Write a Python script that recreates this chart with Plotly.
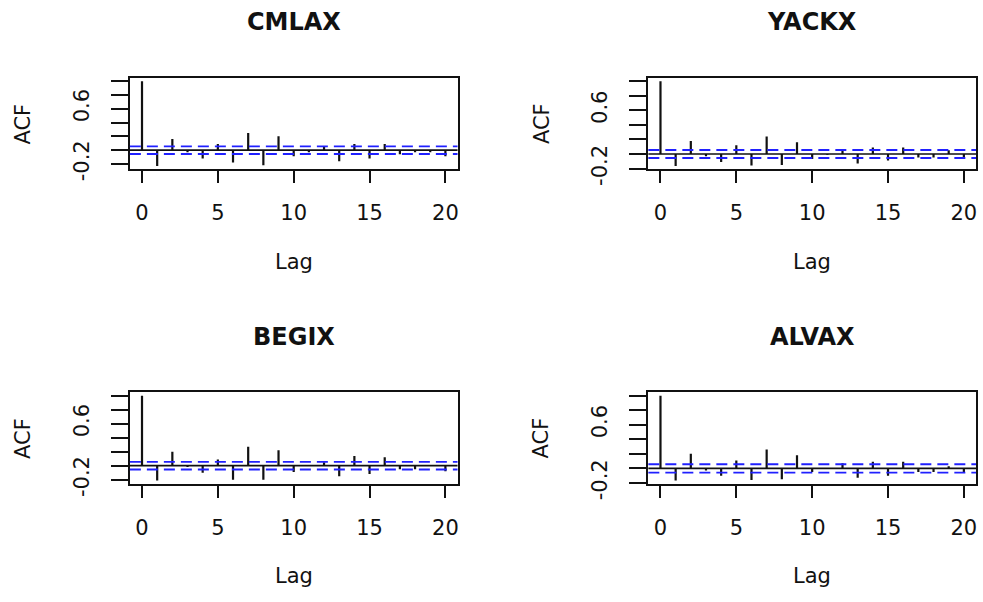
import plotly.graph_objects as go

# Autocorrelation values for lags 0..20 of each fund's return series
lags = list(range(21))
fund_names = ["CMLAX", "YACKX", "BEGIX", "ALVAX"]

acf_cmlax = [1.0, -0.23, 0.16, -0.03, -0.12, 0.09, -0.18, 0.25, -0.22, 0.20, -0.09,
             -0.03, 0.05, -0.16, 0.09, -0.12, 0.09, -0.06, -0.03, -0.03, -0.09]
acf_yackx = [1.0, -0.165, 0.18, -0.03, -0.11, 0.12, -0.16, 0.24, -0.15, 0.16, -0.07,
             -0.01, 0.04, -0.13, 0.09, -0.09, 0.09, -0.05, -0.05, 0.05, -0.05]
acf_begix = [1.0, -0.21, 0.20, -0.02, -0.10, 0.09, -0.20, 0.27, -0.20, 0.22, -0.09,
             0.01, 0.05, -0.15, 0.14, -0.12, 0.12, -0.05, -0.05, 0.0, -0.08]
acf_alvax = [1.0, -0.165, 0.20, -0.03, -0.10, 0.11, -0.16, 0.26, -0.15, 0.18, -0.05,
             0.0, 0.07, -0.13, 0.09, -0.10, 0.09, -0.05, -0.05, 0.03, -0.05]

# 95% white-noise bounds
conf_limits = [0.055, 0.055, 0.055, 0.058]

x_ticks = [0, 5, 10, 15, 20]
y_ticks = [-0.2, 0.0, 0.2, 0.4, 0.6, 0.8, 1.0]
y_tick_text = ["-0.2", "", "", "", "0.6", "", ""]

series = [acf_cmlax, acf_yackx, acf_begix, acf_alvax]

W, H = 983, 602
# plot boxes in pixels: left, right, top, bottom
boxes = [(130, 458, 80, 174), (649, 977, 80, 174),
         (130, 458, 403, 497), (649, 977, 403, 497)]

FONT = "DejaVu Sans, Liberation Sans, Arial, sans-serif"
INK = "#111111"

fig = go.Figure()
annotations = []
shapes = []

for i, (name, acf, clim, box) in enumerate(zip(fund_names, series, conf_limits, boxes)):
    n = i + 1
    xa = "x" if n == 1 else f"x{n}"
    ya = "y" if n == 1 else f"y{n}"
    l, r, t, b = box

    # vertical spikes from zero to each autocorrelation
    xs, ys = [], []
    for k, v in zip(lags, acf):
        xs += [k, k, None]
        ys += [0, v, None]
    fig.add_trace(go.Scatter(x=xs, y=ys, mode="lines", xaxis=xa, yaxis=ya,
                             line=dict(color=INK, width=2.2), hoverinfo="skip",
                             showlegend=False))

    lo = min(min(acf), -clim)
    hi = max(max(acf), clim)
    pad = 0.04 * (hi - lo)
    x_pad = 0.04 * (lags[-1] - lags[0])

    axis_common = dict(showline=True, mirror=True, linecolor=INK, linewidth=1.8,
                       showgrid=False, zeroline=False, ticks="outside",
                       tickcolor=INK,
                       tickfont=dict(family=FONT, size=21, color=INK))
    fig.layout[f"xaxis{n if n > 1 else ''}"] = dict(
        domain=[l / W, r / W], anchor=ya,
        range=[lags[0] - x_pad, lags[-1] + x_pad],
        tickvals=x_ticks, ticklen=12, tickwidth=2.2, ticklabelstandoff=12,
        **axis_common)
    fig.layout[f"yaxis{n if n > 1 else ''}"] = dict(
        domain=[1 - b / H, 1 - t / H], anchor=xa,
        range=[lo - pad, hi + pad],
        tickvals=y_ticks, ticktext=y_tick_text, tickangle=-90,
        ticklen=17, tickwidth=1.7, ticklabelstandoff=14, **axis_common)

    # zero line and confidence bounds across the panel
    shapes.append(dict(type="line", xref=f"{xa} domain", yref=ya, x0=0, x1=1,
                       y0=0, y1=0, line=dict(color=INK, width=1.7)))
    for yv in (clim, -clim):
        shapes.append(dict(type="line", xref=f"{xa} domain", yref=ya, x0=0, x1=1,
                           y0=yv, y1=yv,
                           line=dict(color="#2020ff", width=1.9, dash="11px,6px")))

    cx = (l + r) / 2 / W
    annotations.append(dict(text=f"<b>{name}</b>", x=cx, y=1 - (t - 57) / H,
                            xref="paper", yref="paper", showarrow=False,
                            xanchor="center", yanchor="middle",
                            font=dict(family=FONT, size=24, color=INK)))
    annotations.append(dict(text="Lag", x=cx, y=1 - (b + 95) / H,
                            xref="paper", yref="paper", showarrow=False,
                            xanchor="center", yanchor="middle",
                            font=dict(family=FONT, size=21, color=INK)))
    annotations.append(dict(text="ACF", x=(l - 107) / W, y=1 - (t + b) / 2 / H,
                            xref="paper", yref="paper", showarrow=False,
                            xanchor="center", yanchor="middle", textangle=-90,
                            font=dict(family=FONT, size=21, color=INK)))

fig.update_layout(width=W, height=H, margin=dict(l=0, r=0, t=0, b=0),
                  paper_bgcolor="white", plot_bgcolor="white",
                  annotations=annotations, shapes=shapes, showlegend=False)

fig.write_html("out.html", config={"displayModeBar": False})
